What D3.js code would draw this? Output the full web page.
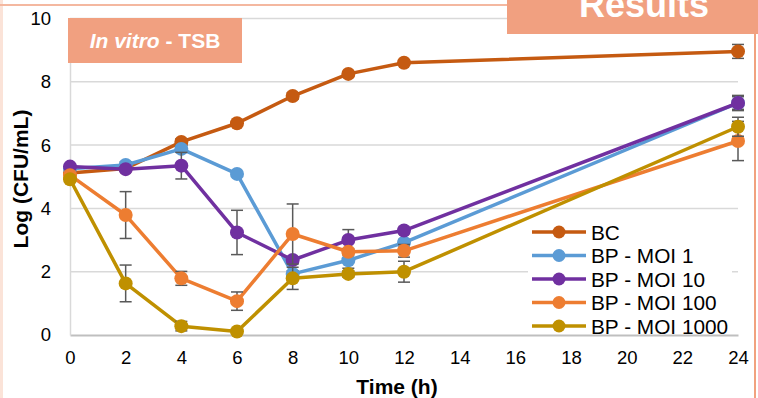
<!DOCTYPE html>
<html><head><meta charset="utf-8">
<script src="https://cdn.jsdelivr.net/npm/d3@7"></script>
<style>html,body{margin:0;padding:0;background:#fff;overflow:hidden}</style>
</head><body>
<svg id="c" width="758" height="398"></svg>
<script>
const times = [0, 2, 4, 6, 8, 10, 12, 24];
const seriesNames = ["BC", "BP - MOI 1", "BP - MOI 10", "BP - MOI 100", "BP - MOI 1000"];
const bcValues      = [5.12, 5.26, 6.10, 6.69, 7.55, 8.25, 8.60, 8.96];
const moi1Values    = [5.25, 5.37, 5.88, 5.09, 1.93, 2.36, 2.92, 7.33];
const moi10Values   = [5.32, 5.24, 5.35, 3.24, 2.37, 3.00, 3.30, 7.33];
const moi100Values  = [5.05, 3.79, 1.79, 1.07, 3.19, 2.63, 2.66, 6.13];
const moi1000Values = [4.92, 1.63, 0.28, 0.11, 1.79, 1.93, 2.00, 6.58];
const bcErr      = [0.05, 0.05, 0.10, 0.05, 0.10, 0.05, 0.05, 0.22];
const moi1Err    = [0.05, 0.10, 0.10, 0.05, 0.10, 0.25, 0.10, 0.20];
const moi10Err   = [0.05, 0.05, 0.42, 0.70, 0.10, 0.33, 0.10, 0.24];
const moi100Err  = [0.05, 0.74, 0.22, 0.29, 0.95, 0.10, 0.20, 0.62];
const moi1000Err = [0.05, 0.58, 0.15, 0.05, 0.35, 0.10, 0.33, 0.30];
const xTicks = [0, 2, 4, 6, 8, 10, 12, 14, 16, 18, 20, 22, 24];
const yTicks = [0, 2, 4, 6, 8, 10];
const colors = ["#C55A11", "#5B9BD5", "#7030A0", "#ED7D31", "#BF9000"];

const series = seriesNames.map((name, i) => ({
  name, color: colors[i],
  values: [bcValues, moi1Values, moi10Values, moi100Values, moi1000Values][i],
  errs: [bcErr, moi1Err, moi10Err, moi100Err, moi1000Err][i]
}));

const svg = d3.select("#c");
const font = "'Liberation Sans', Arial, sans-serif";

// slide decorations
svg.append("rect").attr("x", 0).attr("y", 0).attr("width", 3).attr("height", 398).attr("fill", "#FBE3D8");
svg.append("line").attr("x1", 0).attr("x2", 510).attr("y1", 5).attr("y2", 5).attr("stroke", "#F4B8A0").attr("stroke-width", 2);
svg.append("line").attr("x1", 755).attr("x2", 755).attr("y1", 0).attr("y2", 398).attr("stroke", "#F1A27F").attr("stroke-width", 2);

const x = d3.scaleLinear().domain([0, 24]).range([70, 738]);
const y = d3.scaleLinear().domain([0, 10]).range([335, 18.5]);

// gridlines
const grid = svg.append("g");
grid.selectAll("line").data(yTicks.filter(d => d > 0)).join("line")
  .attr("x1", x(0)).attr("x2", x(24)).attr("y1", d => y(d)).attr("y2", d => y(d))
  .attr("stroke", "#D9D9D9").attr("stroke-width", 1.5);

// axes
const xAxis = svg.append("g").attr("transform", `translate(0,${y(0)})`)
  .call(d3.axisBottom(x).tickValues(xTicks).tickSize(0).tickPadding(16).tickFormat(d3.format("d")));
xAxis.select(".domain").attr("stroke", "#BFBFBF").attr("stroke-width", 2);
xAxis.selectAll("text").attr("font-family", font).attr("font-size", 18.5).attr("fill", "#000");

const yAxis = svg.append("g").attr("transform", `translate(${x(0)},0)`)
  .call(d3.axisLeft(y).tickValues(yTicks).tickSize(0).tickPadding(19).tickFormat(d3.format("d")));
yAxis.select(".domain").attr("stroke", "#D9D9D9").attr("stroke-width", 1.5);
yAxis.selectAll("text").attr("font-family", font).attr("font-size", 18.5).attr("fill", "#000");

// axis titles
svg.append("text").attr("x", 397).attr("y", 394).attr("text-anchor", "middle")
  .attr("font-family", font).attr("font-weight", "bold").attr("font-size", 21).text("Time (h)");
svg.append("text").attr("transform", "translate(28,179) rotate(-90)").attr("text-anchor", "middle")
  .attr("font-family", font).attr("font-weight", "bold").attr("font-size", 21).text("Log (CFU/mL)");

// series
const line = d3.line().x(d => x(d.t)).y(d => y(d.v));
series.forEach(s => {
  const pts = times.map((t, i) => ({ t, v: s.values[i], e: s.errs[i] }));
  const g = svg.append("g");
  g.append("path").datum(pts).attr("d", line).attr("fill", "none")
    .attr("stroke", s.color).attr("stroke-width", 3.5).attr("stroke-linejoin", "round");
  const eb = g.append("g").attr("stroke", "#595959").attr("stroke-width", 1.5);
  eb.selectAll("line.v").data(pts).join("line").attr("class", "v")
    .attr("x1", d => x(d.t)).attr("x2", d => x(d.t)).attr("y1", d => y(d.v - d.e)).attr("y2", d => y(d.v + d.e));
  eb.selectAll("line.t").data(pts).join("line").attr("class", "t")
    .attr("x1", d => x(d.t) - 6).attr("x2", d => x(d.t) + 6).attr("y1", d => y(d.v + d.e)).attr("y2", d => y(d.v + d.e));
  eb.selectAll("line.b").data(pts).join("line").attr("class", "b")
    .attr("x1", d => x(d.t) - 6).attr("x2", d => x(d.t) + 6).attr("y1", d => y(d.v - d.e)).attr("y2", d => y(d.v - d.e));
  g.selectAll("circle").data(pts).join("circle")
    .attr("cx", d => x(d.t)).attr("cy", d => y(d.v)).attr("r", 7).attr("fill", s.color);
});

// legend
const leg = svg.append("g");
leg.append("rect").attr("x", 528).attr("y", 220).attr("width", 204).attr("height", 112).attr("fill", "#fff");
series.forEach((s, i) => {
  const cy = 232 + i * 23.5;
  leg.append("line").attr("x1", 532).attr("x2", 586).attr("y1", cy).attr("y2", cy)
    .attr("stroke", s.color).attr("stroke-width", 3.5);
  leg.append("circle").attr("cx", 559).attr("cy", cy).attr("r", 6.5).attr("fill", s.color);
  leg.append("text").attr("x", 591).attr("y", cy + 7.5).attr("font-family", font).attr("font-size", 20.8)
    .attr("fill", "#000").text(s.name);
});

// In vitro label box
svg.append("rect").attr("x", 68).attr("y", 18).attr("width", 174).attr("height", 45).attr("fill", "#F1A080");
const t1 = svg.append("text").attr("x", 155).attr("y", 48).attr("text-anchor", "middle")
  .attr("font-family", font).attr("font-weight", "bold").attr("font-size", 21).attr("fill", "#fff");
t1.append("tspan").attr("font-style", "italic").text("In vitro");
t1.append("tspan").text(" - TSB");

// Results box
svg.append("rect").attr("x", 507).attr("y", 0).attr("width", 251).attr("height", 34).attr("fill", "#F1A080");
svg.append("text").attr("x", 644).attr("y", 17).attr("text-anchor", "middle")
  .attr("font-family", font).attr("font-weight", "bold").attr("font-size", 36).attr("fill", "#fff").text("Results");
</script>
</body></html>
